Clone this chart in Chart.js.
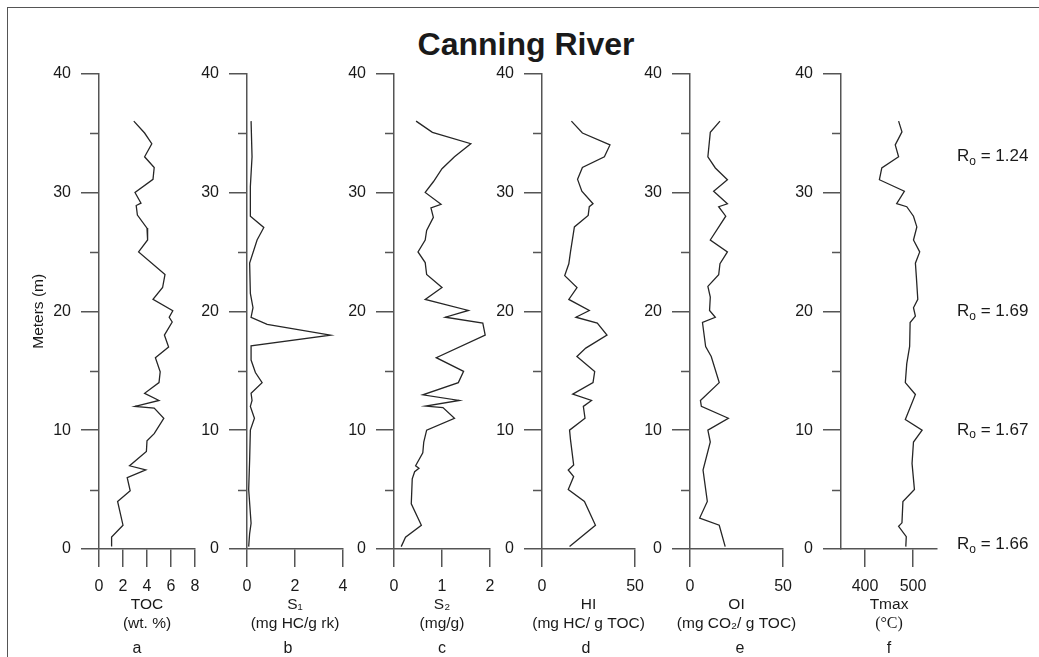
<!DOCTYPE html>
<html>
<head>
<meta charset="utf-8">
<title>Canning River</title>
<script src="https://cdn.jsdelivr.net/npm/chart.js@4.4.1/dist/chart.umd.min.js"></script>
<style>
    body { margin: 0; background: #fff; }
    #figure { position: relative; width: 1039px; height: 657px; overflow: hidden; font-family: 'Liberation Sans', Arial, sans-serif; color: #1a1a1a; }
    #frame { position: absolute; left: 7px; top: 7px; width: 1100px; height: 700px; border-left: 1.5px solid #555; border-top: 1.5px solid #555; }
    #mainTitle { position: absolute; left: 0; top: 28px; width: 1052px; text-align: center; font-weight: bold; font-size: 32px; line-height: 32px; }
    canvas { position: absolute; }
    .letter { position: absolute; top: 638px; width: 40px; margin-left: -20px; text-align: center; font-size: 16px; line-height: 19px; }
</style>
</head>
<body>
<div id="figure">
    <div id="frame"></div>
    <div id="mainTitle">Canning River</div>
</div>
<script>
// Profundidad de muestras (m) y valores de cada perfil.
const tocDepth = [36.0, 35.0, 34.1, 33.0, 32.1, 31.1, 30.0, 29.1, 28.9, 28.1, 27.0, 26.0, 25.0, 23.1, 22.0, 21.0, 20.05, 19.5, 19.1, 18.0, 17.0, 16.1, 14.9, 14.0, 13.1, 12.5, 12.0, 11.85, 11.0, 9.7, 9.1, 8.2, 7.0, 6.65, 6.0, 4.9, 4.0, 2.0, 1.0, 0.2];
const tocValues = [2.9, 3.8, 4.4, 3.8, 4.6, 4.5, 3.0, 3.5, 3.1, 3.2, 4.0, 4.05, 3.3, 5.5, 5.3, 4.5, 6.15, 5.85, 6.1, 5.45, 5.8, 4.7, 5.1, 5.0, 3.8, 5.0, 3.0, 4.6, 5.4, 4.6, 4.0, 3.95, 2.55, 3.9, 2.35, 2.6, 1.55, 2.0, 1.05, 1.05];

const s1Depth = [36.0, 33.0, 30.5, 28.0, 27.05, 26.0, 24.05, 21.5, 20.3, 19.5, 18.9, 18.0, 17.1, 15.9, 14.85, 14.0, 13.1, 12.5, 12.0, 11.0, 10.0, 7.5, 5.0, 2.16, 1.3, 0.2];
const s1Values = [0.17, 0.21, 0.14, 0.14, 0.7, 0.42, 0.11, 0.14, 0.25, 0.17, 0.84, 3.48, 0.17, 0.17, 0.35, 0.63, 0.17, 0.21, 0.14, 0.31, 0.14, 0.11, 0.07, 0.17, 0.11, 0.07];

const s2Depth = [36.0, 35.06, 34.1, 33.0, 32.0, 30.9, 30.0, 29.0, 28.7, 27.9, 26.8, 26.0, 25.0, 24.1, 23.1, 22.0, 21.0, 20.07, 19.5, 19.0, 18.0, 16.1, 14.95, 14.0, 12.97, 12.5, 12.02, 11.9, 11.0, 10.0, 9.0, 8.1, 7.0, 6.8, 6.5, 5.9, 3.8, 2.0, 1.0, 0.2];
const s2Values = [0.46, 0.80, 1.60, 1.26, 1.0, 0.82, 0.65, 0.98, 0.77, 0.82, 0.68, 0.65, 0.50, 0.65, 0.68, 1.0, 0.65, 1.55, 1.07, 1.85, 1.90, 0.88, 1.45, 1.34, 0.60, 1.36, 0.66, 1.02, 1.26, 0.68, 0.62, 0.6, 0.45, 0.52, 0.43, 0.38, 0.36, 0.57, 0.24, 0.15];

const hiDepth = [36.0, 35.0, 34.0, 33.0, 32.1, 31.1, 30.1, 29.05, 28.8, 28.07, 27.1, 25.0, 24.0, 23.0, 22.0, 21.0, 20.07, 19.5, 19.0, 18.0, 16.9, 16.2, 14.93, 14.0, 13.03, 12.5, 12.0, 11.0, 10.0, 9.2, 7.07, 6.65, 6.1, 5.0, 4.0, 2.0, 0.2];
const hiValues = [15.8, 21.7, 36.5, 33.5, 21.7, 19.1, 21.4, 27.4, 25.4, 24.8, 17.4, 15.3, 14.4, 12.2, 18.8, 14.4, 25.4, 18.2, 29.7, 34.9, 23.5, 18.75, 28.3, 27.4, 16.5, 26.6, 22.2, 23.1, 14.8, 15.3, 17.0, 14.1, 17.0, 14.1, 22.8, 28.7, 14.8];

const oiDepth = [36.0, 35.06, 33.0, 32.06, 31.07, 30.1, 29.05, 28.8, 28.0, 26.0, 25.0, 24.0, 23.07, 22.1, 21.2, 20.07, 19.5, 19.06, 17.04, 16.2, 14.0, 12.5, 12.0, 11.0, 10.0, 9.0, 6.65, 4.0, 2.6, 2.0, 0.2];
const oiValues = [16.1, 10.9, 9.6, 13.6, 20.1, 12.7, 20.1, 15.4, 19.2, 10.9, 20.1, 16.1, 15.4, 9.6, 10.9, 10.5, 13.6, 6.7, 8.4, 11.4, 15.7, 5.6, 6.1, 20.6, 9.6, 10.9, 7.0, 9.3, 5.2, 15.7, 18.9];

const tmaxDepth = [36.0, 35.1, 34.0, 33.0, 32.06, 31.07, 30.1, 29.05, 28.8, 28.0, 27.1, 26.0, 25.0, 24.05, 22.9, 21.0, 20.3, 19.6, 19.06, 17.04, 15.6, 14.0, 13.0, 10.9, 10.0, 9.0, 7.2, 5.0, 4.0, 2.2, 1.9, 1.04, 0.2];
const tmaxValues = [470, 477, 463, 470, 435, 430, 482, 466, 487, 501, 508, 501, 514, 505, 507, 510, 501, 505, 494, 493, 487, 484, 505, 484, 519, 501, 498, 503, 479, 477, 470, 486, 485];

// Reflectancia de vitrinita y profundidad donde se rotula.
const roValues = ['1.24', '1.69', '1.67', '1.66'];
const roDepths = [33.0, 20.0, 10.0, 0.4];

// Ejes.
const depthTicks = [0, 10, 20, 30, 40];
const depthMinorTicks = [5, 15, 25, 35];
const xMins = [0, 0, 0, 0, 0, 350];
const xMaxs = [8, 4, 2, 50, 50, 550];
const xTickValues = [[0, 2, 4, 6, 8], [0, 2, 4], [0, 1, 2], [0, 50], [0, 50], [400, 500]];
const xTitles = [['TOC', '(wt. %)'], ['S\u2081', '(mg HC/g rk)'], ['S\u2082', '(mg/g)'], ['HI', '(mg HC/ g TOC)'], ['OI', '(mg CO\u2082/ g TOC)'], ['Tmax', '(\u00B0C)']];
const unitSerif = [false, false, false, false, false, true];
const panelLetters = ['a', 'b', 'c', 'd', 'e', 'f'];

// Posición de cada panel en la figura.
const PANEL_LEFT = [99, 247, 394, 542, 690, 841];
const LETTER_X = [137, 288, 442, 586, 740, 889];
const PLOT_WIDTH = 96;
const Y_AXIS_WIDTH = 75;
const PLOT_BOTTOM = 549;
const CANVAS_TOP = 54;
const CANVAS_HEIGHT = 657 - CANVAS_TOP;
const AXIS_COLOR = '#555';
const TEXT_COLOR = '#1a1a1a';
const FONT = "'Liberation Sans', Arial, sans-serif";

const profiles = [
    [tocDepth, tocValues], [s1Depth, s1Values], [s2Depth, s2Values],
    [hiDepth, hiValues], [oiDepth, oiValues], [tmaxDepth, tmaxValues]
];

// Marcas cortas cada 5 m sobre el eje de profundidad.
const minorTicks = {
    id: 'minorTicks',
    afterDraw(chart) {
        const y = chart.scales.y;
        const ctx = chart.ctx;
        ctx.save();
        ctx.strokeStyle = AXIS_COLOR;
        ctx.lineWidth = 1.5;
        ctx.beginPath();
        depthMinorTicks.forEach(d => {
            const py = Math.round(y.getPixelForValue(d)) + 0.5;
            ctx.moveTo(y.right - 9, py);
            ctx.lineTo(y.right, py);
        });
        ctx.stroke();
        ctx.restore();
    }
};

// Títulos del eje x (sin recortar al ancho del panel).
const axisTitles = {
    id: 'axisTitles',
    afterDraw(chart, args, opts) {
        const x = chart.scales.x;
        const cx = (chart.chartArea.left + chart.chartArea.right) / 2;
        const ctx = chart.ctx;
        ctx.save();
        ctx.fillStyle = TEXT_COLOR;
        ctx.textAlign = 'center';
        ctx.textBaseline = 'middle';
        opts.lines.forEach((line, k) => {
            ctx.font = (k === 1 && opts.serif) ? "16px 'Liberation Serif', serif" : `15.5px ${FONT}`;
            ctx.fillText(line, cx, x.top + 56 + k * 19);
        });
        ctx.restore();
    }
};

// Rótulos Ro a la derecha del último panel.
const roLabels = {
    id: 'roLabels',
    afterDraw(chart) {
        const y = chart.scales.y;
        const ctx = chart.ctx;
        const x0 = chart.chartArea.right + 20;
        ctx.save();
        ctx.fillStyle = TEXT_COLOR;
        ctx.textBaseline = 'middle';
        roDepths.forEach((d, i) => {
            const py = y.getPixelForValue(d);
            let x = x0;
            ctx.font = `17px ${FONT}`;
            ctx.fillText('R', x, py);
            x += ctx.measureText('R').width;
            ctx.font = `12px ${FONT}`;
            ctx.fillText('o', x, py + 5);
            x += ctx.measureText('o').width;
            ctx.font = `17px ${FONT}`;
            ctx.fillText(' = ' + roValues[i], x, py);
        });
        ctx.restore();
    }
};

const figure = document.getElementById('figure');

profiles.forEach(([depths, values], i) => {
    const canvas = document.createElement('canvas');
    const extraRight = i === 5 ? 1039 - (PANEL_LEFT[i] + PLOT_WIDTH) : 16;
    canvas.width = Y_AXIS_WIDTH + PLOT_WIDTH + extraRight;
    canvas.height = CANVAS_HEIGHT;
    canvas.style.left = (PANEL_LEFT[i] - Y_AXIS_WIDTH) + 'px';
    canvas.style.top = CANVAS_TOP + 'px';
    figure.appendChild(canvas);

    const letter = document.createElement('div');
    letter.className = 'letter';
    letter.style.left = LETTER_X[i] + 'px';
    letter.textContent = panelLetters[i];
    figure.appendChild(letter);

    new Chart(canvas, {
        type: 'scatter',
        data: {
            datasets: [{
                data: depths.map((d, k) => ({ x: values[k], y: d })),
                showLine: true,
                borderColor: '#262626',
                borderWidth: 1.3,
                pointRadius: 0,
                tension: 0
            }]
        },
        options: {
            responsive: false,
            devicePixelRatio: 1,
            animation: false,
            layout: { padding: { top: 0, right: extraRight, bottom: 0, left: 0 } },
            plugins: {
                legend: { display: false },
                tooltip: { enabled: false },
                axisTitles: { lines: xTitles[i], serif: unitSerif[i] }
            },
            scales: {
                x: {
                    type: 'linear',
                    position: 'bottom',
                    min: xMins[i],
                    max: xMaxs[i],
                    afterBuildTicks: s => { s.ticks = xTickValues[i].map(v => ({ value: v })); },
                    afterFit: s => { s.height = CANVAS_HEIGHT - (PLOT_BOTTOM - CANVAS_TOP); },
                    ticks: { color: TEXT_COLOR, font: { family: FONT, size: 16 }, padding: 10, maxRotation: 0, autoSkip: false },
                    grid: { drawOnChartArea: false, drawTicks: true, tickLength: 18, color: AXIS_COLOR, lineWidth: 1.5 },
                    border: { display: true, color: AXIS_COLOR, width: 1.5 }
                },
                y: {
                    type: 'linear',
                    position: 'left',
                    min: 0,
                    max: 40,
                    afterBuildTicks: s => { s.ticks = depthTicks.map(v => ({ value: v })); },
                    afterFit: s => { s.width = Y_AXIS_WIDTH; },
                    ticks: { color: TEXT_COLOR, font: { family: FONT, size: 16 }, padding: 10 },
                    grid: { drawOnChartArea: false, drawTicks: true, tickLength: 18, color: AXIS_COLOR, lineWidth: 1.5 },
                    border: { display: true, color: AXIS_COLOR, width: 1.5 },
                    title: {
                        display: i === 0,
                        text: 'Meters (m)',
                        color: TEXT_COLOR,
                        font: { family: FONT, size: 15.5, lineHeight: '19px' },
                        padding: { top: 5, bottom: 0 }
                    }
                }
            }
        },
        plugins: i === 5 ? [minorTicks, axisTitles, roLabels] : [minorTicks, axisTitles]
    });
});
</script>
</body>
</html>
